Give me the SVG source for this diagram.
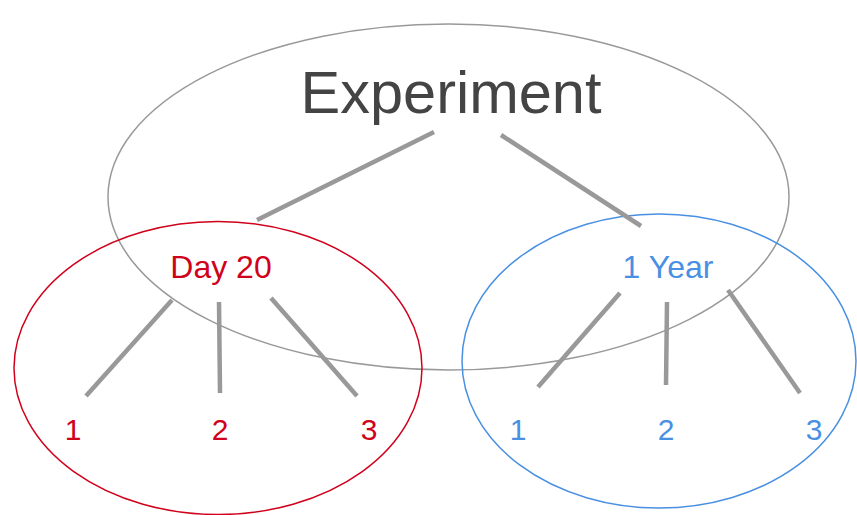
<svg xmlns="http://www.w3.org/2000/svg" width="857" height="515" viewBox="0 0 857 515">
<style>
text{font-family:"Liberation Sans",Arial,sans-serif;text-anchor:middle}
.ell{fill:none;stroke-width:1.5}
.conn line{stroke:#999;stroke-width:4.5}
.red{fill:#d0021b}
.blue{fill:#4a90e2}
</style>
<rect width="857" height="515" fill="#fff"/>
<g id="experiment">
<ellipse class="ell" cx="448.5" cy="197" rx="340.5" ry="173" stroke="#999"/>
<text x="451" y="113" font-size="59.5" fill="#444">Experiment</text>
</g>
<g id="day20">
<ellipse class="ell" cx="218" cy="368" rx="204" ry="146.5" stroke="#d0021b"/>
<text class="red" x="221" y="278" font-size="32">Day 20</text>
</g>
<g id="year1">
<ellipse class="ell" cx="659" cy="361" rx="197" ry="147" stroke="#4a90e2"/>
<text class="blue" x="668" y="278" font-size="32">1 Year</text>
</g>
<g id="d1"><text class="red" x="73" y="440" font-size="30">1</text></g>
<g id="d2"><text class="red" x="220" y="440" font-size="30">2</text></g>
<g id="d3"><text class="red" x="369" y="440" font-size="30">3</text></g>
<g id="y1"><text class="blue" x="518" y="440" font-size="30">1</text></g>
<g id="y2"><text class="blue" x="666" y="440" font-size="30">2</text></g>
<g id="y3"><text class="blue" x="814" y="440" font-size="30">3</text></g>
<g id="connectors" class="conn">
<line x1="434" y1="132" x2="257" y2="220"/>
<line x1="501" y1="135" x2="641" y2="226"/>
<line x1="172" y1="300" x2="86" y2="396"/>
<line x1="219" y1="302" x2="220" y2="393"/>
<line x1="271" y1="298" x2="357" y2="396"/>
<line x1="620" y1="293" x2="538" y2="387"/>
<line x1="667" y1="302" x2="666" y2="385"/>
<line x1="728" y1="290" x2="800" y2="393"/>
</g>
</svg>
